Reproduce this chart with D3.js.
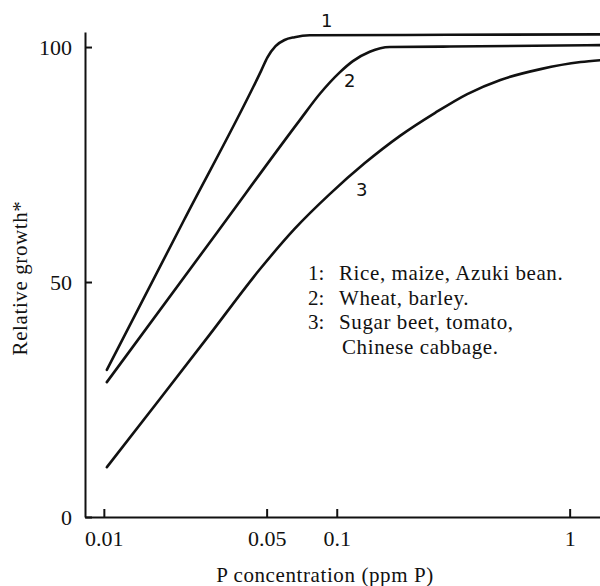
<!DOCTYPE html>
<html>
<head>
<meta charset="utf-8">
<script src="https://cdn.jsdelivr.net/npm/d3@7"></script>
<style>
  body { margin: 0; background: #fff; }
  svg { display: block; }
  .axis path, .axis line { stroke: #111; stroke-width: 2; }
  .axis text { font-family: "Liberation Serif", "Times New Roman", serif; font-size: 22px; fill: #111; }
  .curve { fill: none; stroke: #111; stroke-width: 2.6; stroke-linecap: round; }
  .curve_label { font-family: "DejaVu Sans", sans-serif; font-size: 18px; fill: #111; }
  .legend_text, .axis_title { font-family: "Liberation Serif", "Times New Roman", serif; fill: #111; }
</style>
</head>
<body>
<div id="chart"></div>
<script>

// P concentration (ppm P)
var conc_1 = [0.0103, 0.0221, 0.0475, 0.0504, 0.0546, 0.0597, 0.0659, 0.0765, 0.3, 1.36];
var growth_1 = [31.3, 63.2, 95.1, 97.8, 100.2, 101.5, 102.1, 102.5, 102.6, 102.7];

var conc_2 = [0.0103, 0.0307, 0.0693, 0.0845, 0.1030, 0.1173, 0.1386, 0.169, 0.307, 1.36];
var growth_2 = [28.7, 60.6, 84.4, 90.0, 94.6, 97.0, 99.0, 100.0, 100.1, 100.4];

var conc_3 = [0.0103, 0.01727, 0.02836, 0.04657, 0.0659, 0.0933, 0.132, 0.1869, 0.2646, 0.3634, 0.5043, 0.75, 1.115, 1.36];
var growth_3 = [10.6, 24.9, 38.7, 52.6, 61.3, 68.7, 75.3, 81.1, 86.0, 90.0, 93.0, 95.3, 96.8, 97.2];

// curve numbers, placed next to each curve (concentration, growth)
var curve_names = ["1", "2", "3"];
var label_conc = [0.0906, 0.1138, 0.128];
var label_growth = [105.7, 92.8, 69.6];

// tick labels
var x_ticks = [0.01, 0.05, 0.1, 1];
var y_ticks = [0, 50, 100];

// legend lines
var legend_nums = ["1:", "2:", "3:", ""];
var legend_texts = ["Rice, maize, Azuki bean.", "Wheat, barley.", "Sugar beet, tomato,", "Chinese cabbage."];

var width = 600, height = 586;

var svg = d3.select("#chart").append("svg")
    .attr("width", width)
    .attr("height", height);

svg.append("rect").attr("width", width).attr("height", height).attr("fill", "#fff");

// scales (log x)
var x = d3.scaleLog().domain([0.0083, 1.35]).range([85, 600]);
var y = d3.scaleLinear().domain([0, 103.2]).range([517, 32]);

// x axis, ticks pointing up into the plot
svg.append("g")
    .attr("class", "axis")
    .attr("transform", "translate(0," + y(0) + ")")
    .call(d3.axisBottom(x)
        .tickValues(x_ticks)
        .tickSize(-8)
        .tickSizeOuter(0)
        .tickPadding(13)
        .tickFormat(function(d) { return String(d); }));

// y axis, ticks pointing right
svg.append("g")
    .attr("class", "axis")
    .attr("transform", "translate(" + x.range()[0] + ",0)")
    .call(d3.axisLeft(y)
        .tickValues(y_ticks)
        .tickSize(-7)
        .tickSizeOuter(0)
        .tickPadding(13));

// draw the three curves
var line = d3.line()
    .x(function(d) { return x(d[0]); })
    .y(function(d) { return y(d[1]); })
    .curve(d3.curveMonotoneX);

[[conc_1, growth_1], [conc_2, growth_2], [conc_3, growth_3]].forEach(function(s) {
    var pts = s[0].map(function(c, i) { return [c, s[1][i]]; });
    svg.append("path")
        .attr("class", "curve")
        .attr("d", line(pts));
});

// curve numbers
curve_names.forEach(function(n, i) {
    svg.append("text")
        .attr("class", "curve_label")
        .attr("x", x(label_conc[i]))
        .attr("y", y(label_growth[i]))
        .attr("dy", "0.35em")
        .attr("text-anchor", "middle")
        .text(n);
});

// legend
legend_texts.forEach(function(t, i) {
    var ly = 273 + i * 24.5;
    svg.append("text")
        .attr("class", "legend_text")
        .attr("x", 308)
        .attr("y", ly)
        .attr("dy", "0.35em")
        .style("font-size", "21px")
        .text(legend_nums[i]);
    svg.append("text")
        .attr("class", "legend_text")
        .attr("x", i == 3 ? 342 : 339)
        .attr("y", ly)
        .attr("dy", "0.35em")
        .style("font-size", "21px")
        .style("letter-spacing", "0.6px")
        .text(t);
});

// axis titles
svg.append("text")
    .attr("class", "axis_title")
    .attr("transform", "translate(20,278) rotate(-90)")
    .attr("text-anchor", "middle")
    .attr("dy", "0.35em")
    .style("font-size", "21px")
    .style("letter-spacing", "0.6px")
    .text("Relative growth*");

svg.append("text")
    .attr("class", "axis_title")
    .attr("x", 325)
    .attr("y", 575)
    .attr("text-anchor", "middle")
    .attr("dy", "0.35em")
    .style("font-size", "21px")
    .style("letter-spacing", "0.6px")
    .text("P concentration (ppm P)");

</script>
</body>
</html>
